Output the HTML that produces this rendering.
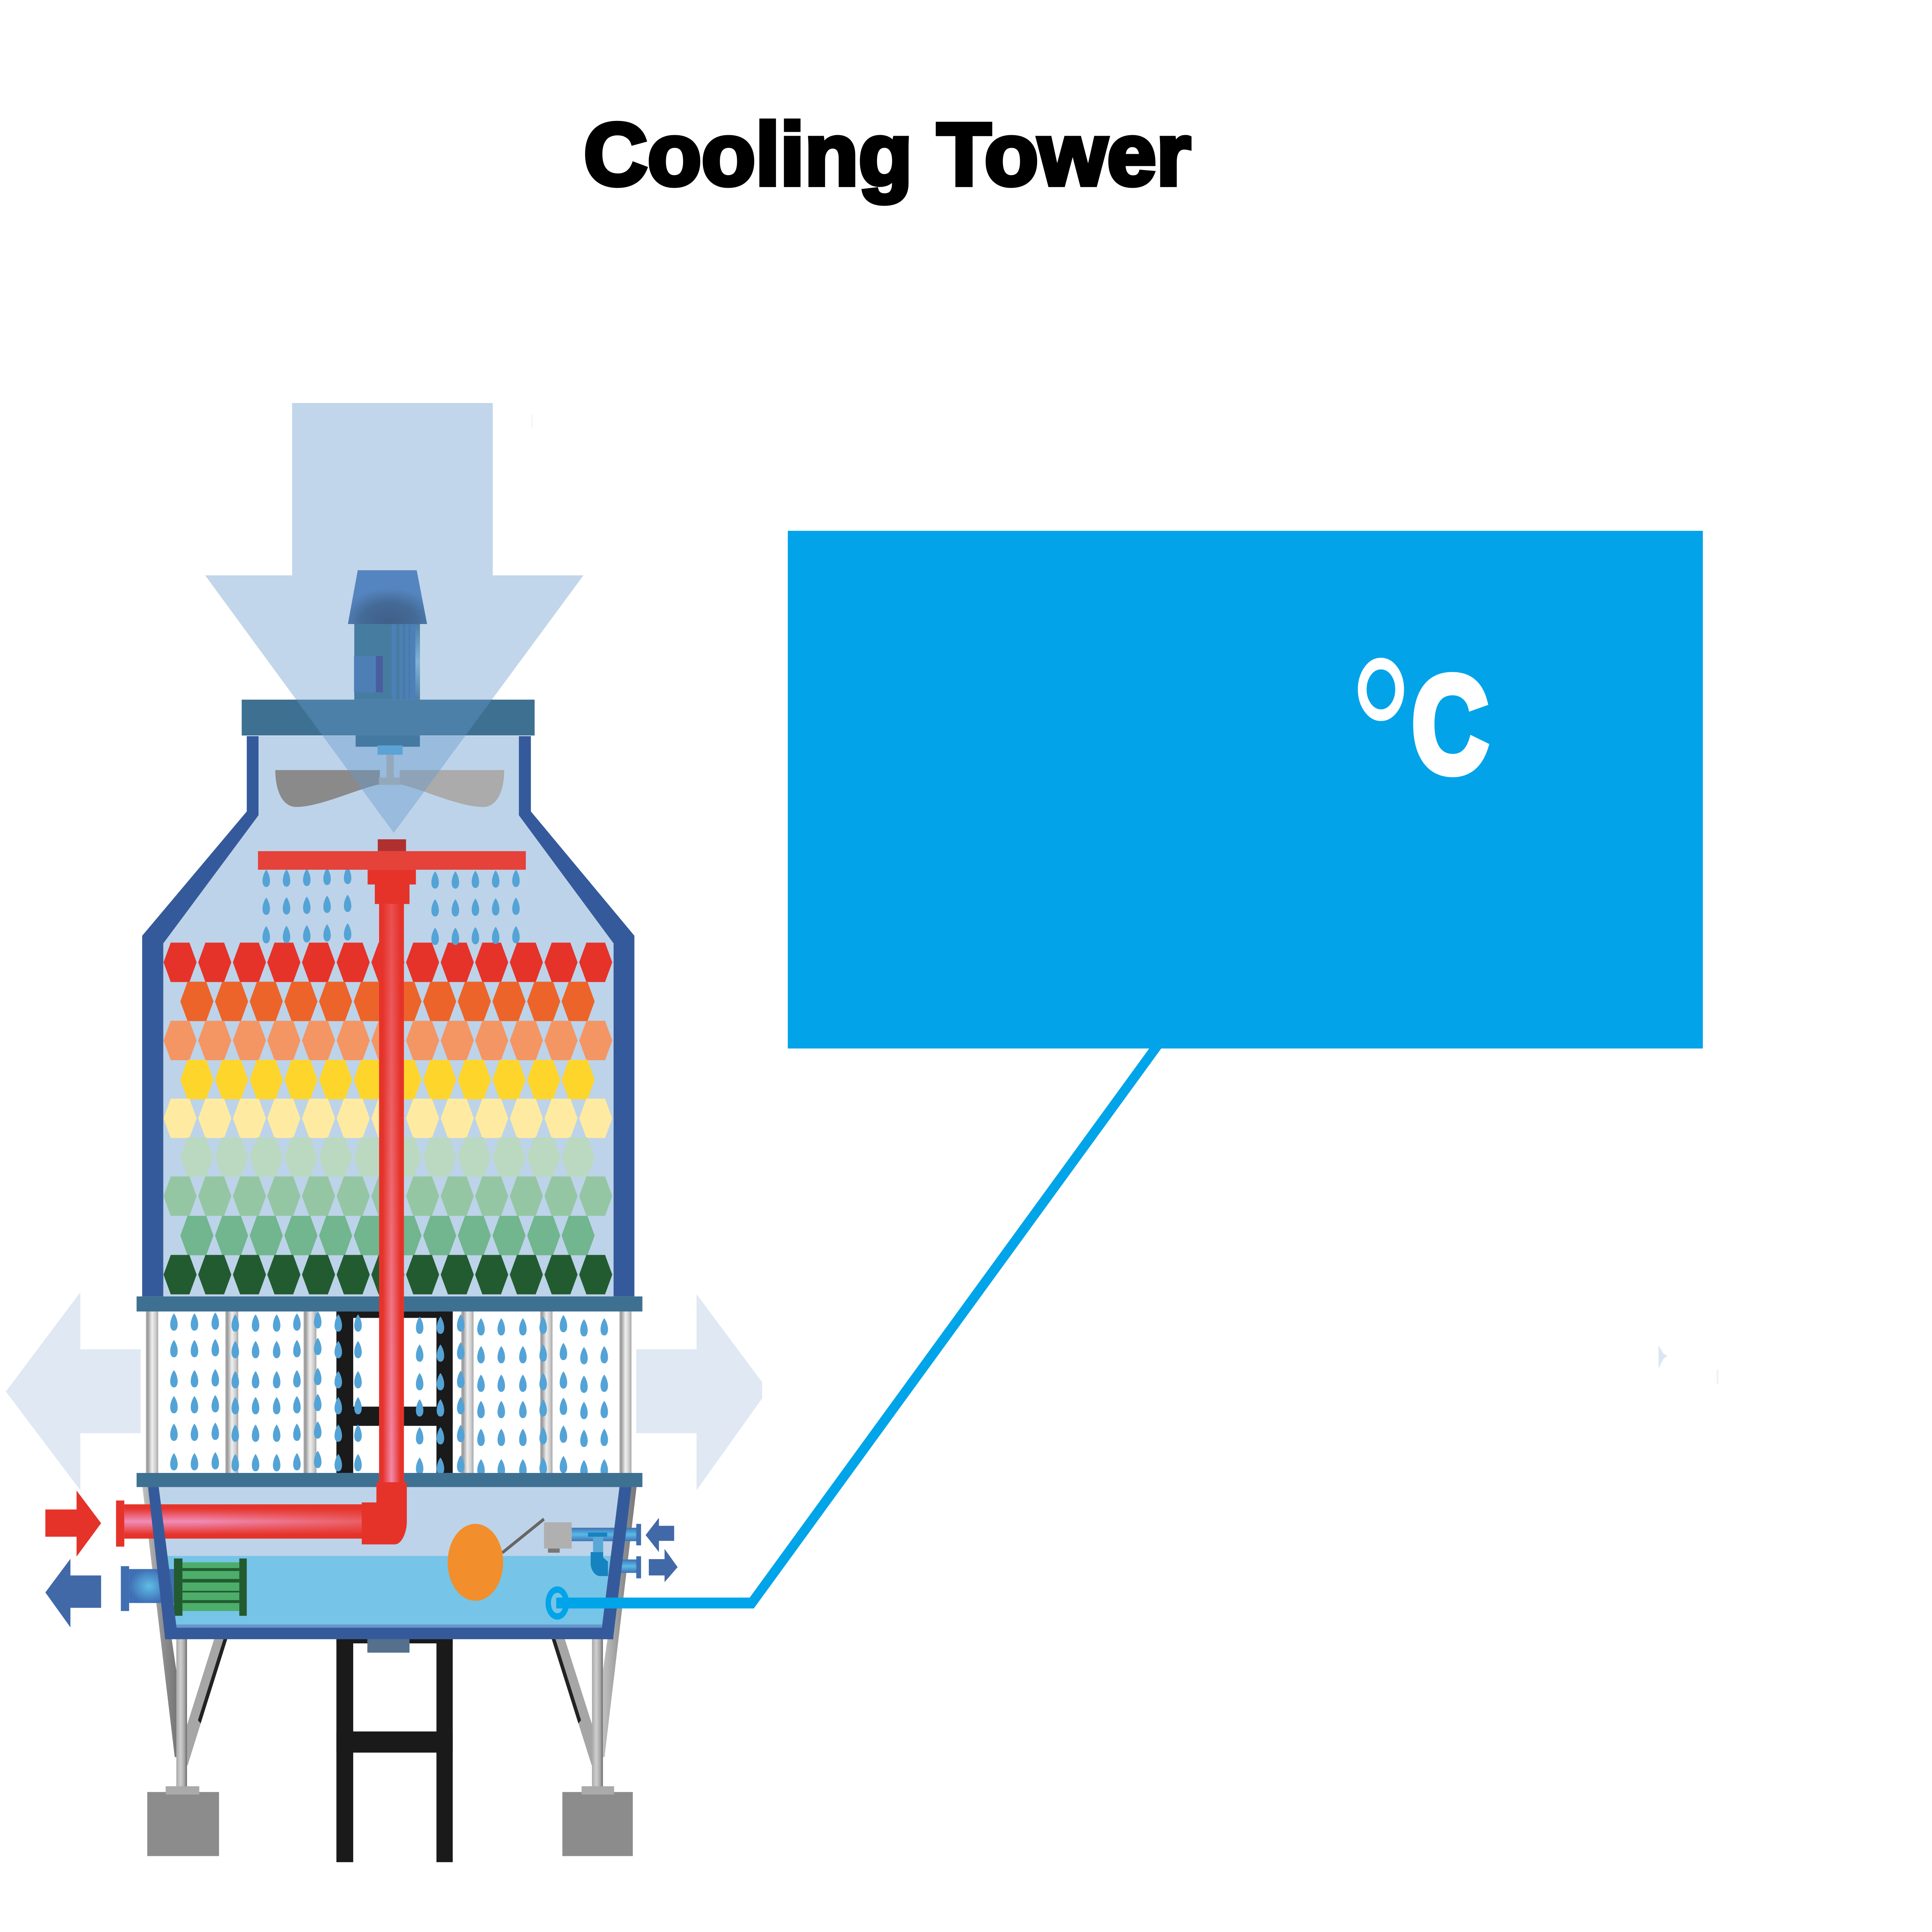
<!DOCTYPE html>
<html>
<head>
<meta charset="utf-8">
<title>Cooling Tower</title>
<style>
html,body{margin:0;padding:0;background:#fff;width:100%;height:100%;overflow:hidden}
svg{display:block;position:fixed;left:0;top:0;width:100vw;height:100vh}
</style>
</head>
<body>
<svg xmlns="http://www.w3.org/2000/svg" viewBox="0 0 7242 6031" preserveAspectRatio="none">
<defs>
  <polygon id="h" points="-62,0 -35,-61.5 35,-61.5 62,0 35,61.5 -35,61.5"/>
  <path id="d" d="M0,-27 C7,-20 14,-5 14,8 C14,20 8,27 0,27 C-8,27 -14,20 -14,8 C-14,-5 -7,-20 0,-27Z"/>
  <g id="rowA">
    <use href="#h" x="675"/><use href="#h" x="805"/><use href="#h" x="935"/><use href="#h" x="1064"/><use href="#h" x="1194"/><use href="#h" x="1324"/><use href="#h" x="1454"/><use href="#h" x="1584"/><use href="#h" x="1714"/><use href="#h" x="1843"/><use href="#h" x="1973"/><use href="#h" x="2103"/><use href="#h" x="2233"/>
  </g>
  <g id="rowB">
    <use href="#h" x="738"/><use href="#h" x="868"/><use href="#h" x="998"/><use href="#h" x="1128"/><use href="#h" x="1258"/><use href="#h" x="1388"/><use href="#h" x="1518"/><use href="#h" x="1648"/><use href="#h" x="1778"/><use href="#h" x="1908"/><use href="#h" x="2038"/><use href="#h" x="2167"/>
  </g>
  <g id="u3"><use href="#d" y="0"/><use href="#d" y="87"/><use href="#d" y="176"/></g>
  <g id="cL"><use href="#d" y="0"/><use href="#d" y="83"/><use href="#d" y="177"/><use href="#d" y="258"/><use href="#d" y="344"/><use href="#d" y="436"/></g>
  <g id="cR"><use href="#d" y="0"/><use href="#d" y="87"/><use href="#d" y="176"/><use href="#d" y="258"/><use href="#d" y="345"/><use href="#d" y="440"/></g>
  <linearGradient id="col"><stop offset="0" stop-color="#b0b0b0"/><stop offset=".15" stop-color="#999"/><stop offset=".5" stop-color="#efefef"/><stop offset=".8" stop-color="#ccc"/><stop offset="1" stop-color="#a6a6a6"/></linearGradient>
  <linearGradient id="leg"><stop offset="0" stop-color="#a8a8a8"/><stop offset=".4" stop-color="#cfcfcf"/><stop offset=".75" stop-color="#a8a8a8"/><stop offset="1" stop-color="#6a6a6a"/></linearGradient>
  <linearGradient id="diagL"><stop offset="0" stop-color="#c0c0c0"/><stop offset=".6" stop-color="#8f8f8f"/><stop offset="1" stop-color="#777"/></linearGradient>
  <linearGradient id="rib" x1="0" y1="0" x2="0" y2="1"><stop offset="0" stop-color="#4d80a8"/><stop offset=".5" stop-color="#80b2d8"/><stop offset="1" stop-color="#4d80a8"/></linearGradient>
  <linearGradient id="vp" x1="0" y1="0" x2="0" y2="1"><stop offset="0" stop-color="#ea4f4f"/><stop offset=".5" stop-color="#ee6a72"/><stop offset="1" stop-color="#f389aa"/></linearGradient>
  <linearGradient id="vpe"><stop offset="0" stop-color="#e5332a"/><stop offset=".15" stop-color="#e5332a"/><stop offset=".5" stop-color="#e5332a" stop-opacity="0"/><stop offset=".85" stop-color="#e5332a"/><stop offset="1" stop-color="#e5332a"/></linearGradient>
  <linearGradient id="hp"><stop offset="0" stop-color="#f08db8"/><stop offset=".3" stop-color="#f08db8"/><stop offset="1" stop-color="#ea6066"/></linearGradient>
  <linearGradient id="hpe" x1="0" y1="0" x2="0" y2="1"><stop offset="0" stop-color="#e5332a"/><stop offset=".12" stop-color="#e5332a"/><stop offset=".5" stop-color="#e5332a" stop-opacity="0"/><stop offset=".88" stop-color="#e5332a"/><stop offset="1" stop-color="#e5332a"/></linearGradient>
  <linearGradient id="bp" x1="0" y1="0" x2="0" y2="1"><stop offset="0" stop-color="#3f72b5"/><stop offset=".5" stop-color="#5abae6"/><stop offset="1" stop-color="#3f72b5"/></linearGradient>
  <radialGradient id="bpr"><stop offset="0" stop-color="#5fbde6"/><stop offset="1" stop-color="#3f6fb5"/></radialGradient>
  <radialGradient id="cap" cx=".52" cy=".95" r=".62"><stop offset="0" stop-color="#3f5f88"/><stop offset=".55" stop-color="#446a96"/><stop offset="1" stop-color="#5585c0"/></radialGradient>
</defs>

<!-- faint marks -->
<polygon points="6217,4200 6235,4225 6250,4233 6235,4242 6217,4272" fill="#dbe6f2"/>
<rect x="6435" y="4275" width="6" height="45" fill="#f3f0ee"/>
<rect x="1992" y="1295" width="4" height="40" fill="#f2f2f2"/>

<!-- title -->
<text x="2188" y="577" font-family="'Liberation Sans',sans-serif" font-weight="700" font-size="276" fill="#000" stroke="#000" stroke-width="14" textLength="2275" lengthAdjust="spacingAndGlyphs">Cooling Tower</text>

<!-- side air arrows -->
<polygon points="527,4212 301,4212 301,4034 22,4344 301,4652 301,4474 527,4474" fill="#dfe8f3"/>
<polygon points="2385,4212 2611,4212 2611,4040 2857,4315 2857,4365 2611,4652 2611,4474 2385,4474" fill="#dfe8f3"/>

<!-- black frame -->
<g fill="#1a1a1a">
  <rect x="1261" y="4094" width="63" height="504"/>
  <rect x="1636" y="4094" width="61" height="504"/>
  <rect x="1261" y="4094" width="436" height="20"/>
  <rect x="1261" y="4391" width="436" height="60"/>
  <rect x="1261" y="5116" width="63" height="697"/>
  <rect x="1636" y="5116" width="61" height="697"/>
  <rect x="1261" y="5116" width="436" height="14"/>
  <rect x="1261" y="5405" width="436" height="66"/>
</g>

<!-- louver columns -->
<g fill="url(#col)">
  <rect x="547" y="4094" width="46" height="504"/>
  <rect x="845" y="4094" width="48" height="504"/>
  <rect x="1138" y="4094" width="48" height="504"/>
  <rect x="1729" y="4094" width="46" height="504"/>
  <rect x="2025" y="4094" width="46" height="504"/>
  <rect x="2322" y="4094" width="45" height="504"/>
</g>

<!-- louver drops -->
<g fill="#54a3d6">
  <use href="#cL" x="652" y="4127"/><use href="#cL" x="729" y="4127"/><use href="#cL" x="807" y="4124"/><use href="#cL" x="882" y="4130"/><use href="#cL" x="958" y="4130"/><use href="#cL" x="1037" y="4130"/><use href="#cL" x="1113" y="4127"/><use href="#cL" x="1191" y="4120"/><use href="#cL" x="1268" y="4130"/><use href="#cL" x="1342" y="4130"/>
  <use href="#cR" x="1573" y="4137"/><use href="#cR" x="1651" y="4137"/><use href="#cR" x="1727" y="4130"/><use href="#cR" x="1803" y="4142"/><use href="#cR" x="1879" y="4142"/><use href="#cR" x="1960" y="4142"/><use href="#cR" x="2036" y="4137"/><use href="#cR" x="2112" y="4132"/><use href="#cR" x="2189" y="4145"/><use href="#cR" x="2265" y="4142"/>
</g>

<!-- legs -->
<g>
  <rect x="661" y="5110" width="40" height="470" fill="url(#leg)"/>
  <rect x="2219" y="5110" width="41" height="470" fill="url(#leg)"/>
  <polygon points="534,4642 560,4642 661,5215 661,5485 655,5485" fill="url(#diagL)"/>
  <polygon points="803,5116 852,5116 703,5511 701,5511 701,5385" fill="#a6a6a6"/>
  <polygon points="852,5116 838,5116 742,5370 752,5380" fill="#222"/>
  <polygon points="2386,4642 2360,4642 2260,5215 2260,5485 2266,5485" fill="url(#diagL)"/>
  <polygon points="2117,5116 2068,5116 2218,5511 2220,5511 2220,5385" fill="#a6a6a6"/>
  <polygon points="2068,5116 2082,5116 2178,5370 2168,5380" fill="#222"/>
  <rect x="552" y="5594" width="269" height="200" fill="#8c8c8c"/>
  <rect x="2108" y="5594" width="264" height="200" fill="#8c8c8c"/>
  <rect x="621" y="5576" width="126" height="26" fill="#aaa"/>
  <rect x="2180" y="5576" width="122" height="26" fill="#aaa"/>
</g>
<rect x="1377" y="5116" width="158" height="43" fill="#54708c"/>

<!-- tower body -->
<polygon points="925,2298 925,2533 533,2921 533,4047 2378,4047 2378,2921 1990,2533 1990,2298" fill="#355a9b"/>
<polygon points="969,2298 969,2545 612,2945 612,4050 2300,4050 2300,2945 1945,2545 1945,2298" fill="#bdd3e9"/>

<!-- fan -->
<path d="M1032,2404 L1424,2404 L1424,2448 C1330,2465 1200,2519 1110,2519 C1060,2519 1032,2470 1032,2404Z" fill="#8a8a8a"/>
<path d="M1890,2404 L1498,2404 L1498,2448 C1590,2465 1720,2519 1812,2519 C1862,2519 1890,2470 1890,2404Z" fill="#ababab"/>
<rect x="1420" y="2427" width="80" height="23" fill="#b2b4b1"/>
<rect x="1448" y="2356" width="28" height="71" fill="#b2b4b1"/>

<!-- top plate -->
<rect x="906" y="2184" width="1098" height="112" fill="#3e7092"/>
<rect x="1333" y="2296" width="241" height="35" fill="#306787"/>
<rect x="1415" y="2327" width="94" height="29" fill="#55aada"/>

<!-- big down arrow -->
<polygon points="1095,1258 1847,1258 1847,1796 2187,1796 1476,2600 769,1796 1095,1796" fill="#6498ca" fill-opacity=".4"/>

<!-- motor -->
<rect x="1328" y="1948" width="246" height="236" fill="#467ca0"/>
<rect x="1468" y="1948" width="17" height="236" fill="#4d7fb8"/>
<rect x="1497" y="1948" width="12" height="236" fill="#4d7fb8"/>
<rect x="1518" y="1948" width="14" height="236" fill="#4d7fb8"/>
<rect x="1537" y="1948" width="20" height="236" fill="#4d7fb8"/>
<rect x="1557" y="1948" width="17" height="236" fill="url(#rib)"/>
<rect x="1327" y="2048" width="82" height="113" fill="#4e7eb6"/>
<rect x="1409" y="2048" width="26" height="113" fill="#4a5d9e"/>
<polygon points="1341,1780 1562,1780 1601,1948 1304,1948" fill="url(#cap)"/>

<!-- fill hexagons -->
<use href="#rowA" y="3004" fill="#e5332a"/>
<use href="#rowB" y="3126" fill="#ec6429"/>
<use href="#rowA" y="3248" fill="#f49564"/>
<use href="#rowB" y="3370" fill="#fed52b"/>
<use href="#rowA" y="3491" fill="#feeba1"/>
<use href="#rowB" y="3612" fill="#bad9c0"/>
<use href="#rowA" y="3734" fill="#95c6a3"/>
<use href="#rowB" y="3857" fill="#71b68e"/>
<use href="#rowA" y="3979" fill="#235b30"/>

<!-- spray drops -->
<g fill="#54a3d6">
  <use href="#u3" x="998" y="2742"/><use href="#u3" x="1074" y="2741"/><use href="#u3" x="1150" y="2739"/><use href="#u3" x="1226" y="2736"/><use href="#u3" x="1303" y="2733"/>
  <use href="#u3" x="1631" y="2747"/><use href="#u3" x="1707" y="2747"/><use href="#u3" x="1782" y="2745"/><use href="#u3" x="1858" y="2744"/><use href="#u3" x="1934" y="2742"/>
</g>

<!-- plates -->
<rect x="512" y="4047" width="1896" height="47" fill="#3e7092"/>
<rect x="512" y="4598" width="1896" height="44" fill="#3e7092"/>

<!-- basin -->
<polygon points="555,4642 2367,4642 2298,5116 619,5116" fill="#bdd3e9"/>
<polygon points="628,4857 2290,4857 2257,5071 661,5071" fill="#76c4e8"/>
<polygon points="661,5071 2257,5071 2256,5081 662,5081" fill="#6699cc"/>

<!-- pipes behind wall -->
<rect x="466" y="4696" width="893" height="107" fill="url(#hp)"/>
<rect x="466" y="4696" width="893" height="107" fill="url(#hpe)"/>
<rect x="435" y="4684" width="31" height="144" fill="#e5332a"/>
<rect x="484" y="4898" width="150" height="106" fill="url(#bpr)"/>
<rect x="453" y="4889" width="31" height="140" fill="#3f6fb0"/>
<rect x="633" y="4898" width="23" height="106" fill="#3f6fb0"/>
<rect x="2143" y="4769" width="248" height="42" fill="url(#bp)"/>
<rect x="2385" y="4757" width="18" height="67" fill="#3f6fb0"/>
<rect x="2315" y="4868" width="72" height="42" fill="url(#bp)"/>
<rect x="2385" y="4858" width="18" height="69" fill="#3f6fb0"/>

<!-- heat exchanger -->
<rect x="684" y="4877" width="213" height="152" fill="#4cae6a"/>
<g fill="#235b30">
  <rect x="684" y="4895" width="213" height="9"/>
  <rect x="684" y="4929" width="213" height="11"/>
  <rect x="684" y="4966" width="213" height="5"/>
  <rect x="684" y="4995" width="213" height="9"/>
  <rect x="652" y="4865" width="32" height="179"/>
  <rect x="897" y="4865" width="28" height="179"/>
</g>

<!-- float & valve -->
<line x1="1883" y1="4847" x2="2039" y2="4742" stroke="#666" stroke-width="10"/>
<ellipse cx="1782" cy="4877" rx="104" ry="120" fill="#f28e2b"/>
<rect x="2039" y="4752" width="104" height="82" fill="#b0b0b0"/>
<rect x="2054" y="4834" width="44" height="13" fill="#777"/>

<!-- U drain -->
<rect x="2204" y="4784" width="72" height="13" fill="#1583c0"/>
<rect x="2223" y="4797" width="38" height="48" fill="#5aa8d6"/>
<path d="M2214,4845 L2261,4845 L2261,4862 L2279,4875 L2279,4920 L2250,4920 C2230,4920 2214,4900 2214,4880Z" fill="#1583c0"/>

<!-- basin walls -->
<g fill="#355a9b">
  <polygon points="555,4642 595,4642 662,5081 662,5117 619,5117"/>
  <polygon points="2322,4642 2367,4642 2298,5117 2256,5117 2256,5081"/>
  <rect x="619" y="5081" width="1680" height="36"/>
</g>

<!-- vertical riser -->
<rect x="1421" y="2822" width="93" height="1810" fill="url(#vp)"/>
<rect x="1421" y="2822" width="93" height="1810" fill="url(#vpe)"/>
<path d="M1411,4627 L1525,4627 L1525,4750 C1525,4785 1505,4821 1480,4821 L1356,4821 L1356,4690 L1411,4690Z" fill="#e5332a"/>

<!-- spray header -->
<rect x="1416" y="2620" width="106" height="37" fill="#b03030"/>
<rect x="967" y="2657" width="1004" height="58" fill="#e5423a"/>
<rect x="1378" y="2715" width="181" height="46" fill="#e5332a"/>
<rect x="1405" y="2761" width="130" height="61" fill="#e5332a"/>

<!-- flow arrows -->
<polygon points="170,4712 287,4712 287,4653 379,4755 287,4859 287,4797 170,4797" fill="#e5332a"/>
<polygon points="170,4971 264,4866 264,4918 379,4918 379,5019 264,5019 264,5080" fill="#4169a8"/>
<polygon points="2420,4792 2470,4738 2470,4763 2527,4763 2527,4810 2470,4810 2470,4845" fill="#4169a8"/>
<polygon points="2432,4867 2491,4867 2491,4835 2540,4892 2491,4939 2491,4918 2432,4918" fill="#4169a8"/>

<!-- info panel + leader -->
<polyline points="2085,5004 2818,5004 4381,3215" fill="none" stroke="#00a4e8" stroke-width="34" stroke-miterlimit="10"/>
<rect x="2953" y="1657" width="3430" height="1616" fill="#02a3e9"/>
<ellipse cx="2089" cy="5004" rx="34" ry="42" fill="none" stroke="#00a4e8" stroke-width="20"/>

<text x="5053" y="2549" font-family="'Liberation Sans',sans-serif" font-size="710" fill="#fff" textLength="247" lengthAdjust="spacingAndGlyphs">°</text>
<text x="5292" y="2410" font-family="'Liberation Sans',sans-serif" font-weight="700" font-size="430" fill="#fff" stroke="#fff" stroke-width="24" textLength="287" lengthAdjust="spacingAndGlyphs">C</text>
</svg>
</body>
</html>
